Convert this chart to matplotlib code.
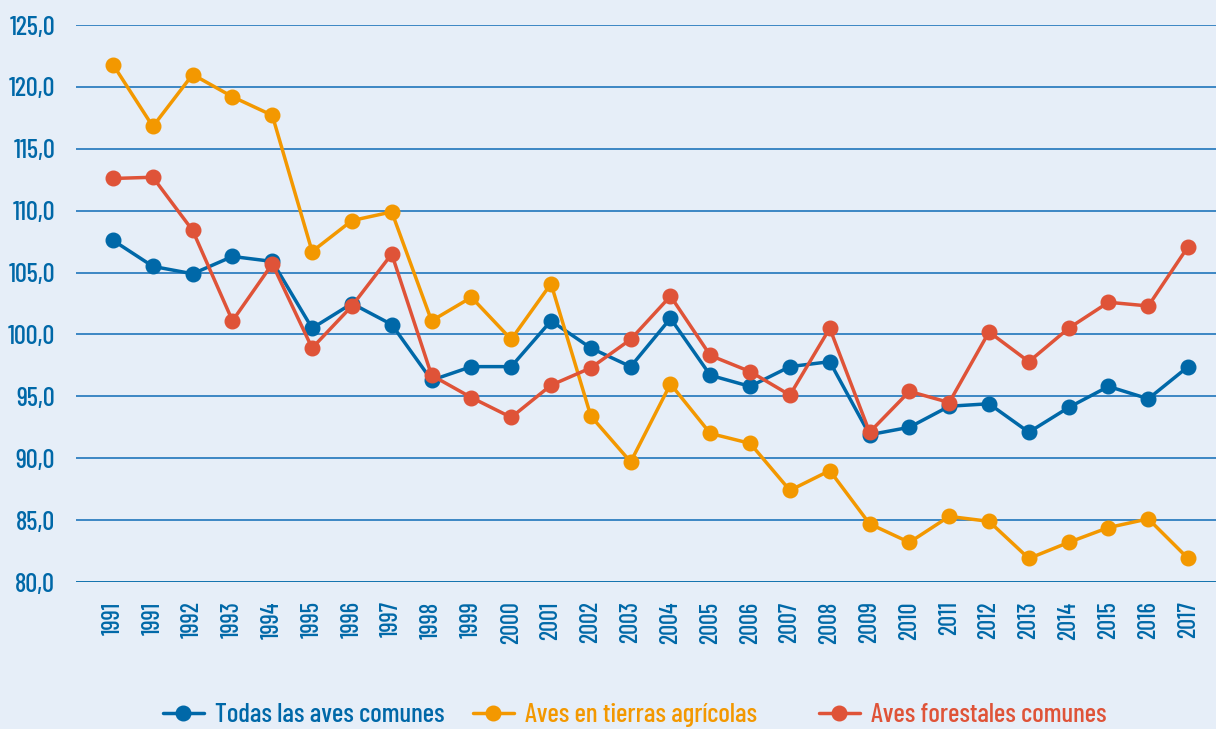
import matplotlib
matplotlib.use("Agg")
import matplotlib.pyplot as plt
from matplotlib import font_manager as fm

years = ["1991", "1991", "1992", "1993", "1994", "1995", "1996", "1997", "1998", "1999",
         "2000", "2001", "2002", "2003", "2004", "2005", "2006", "2007", "2008", "2009",
         "2010", "2011", "2012", "2013", "2014", "2015", "2016", "2017"]
todas = [107.6, 105.5, 104.9, 106.3, 105.9, 100.5, 102.5, 100.8, 96.3, 97.4,
         97.4, 101.1, 98.9, 97.4, 101.3, 96.7, 95.8, 97.4, 97.8, 91.9,
         92.5, 94.2, 94.4, 92.1, 94.1, 95.8, 94.8, 97.4]
agricolas = [121.8, 116.8, 121.0, 119.2, 117.7, 106.7, 109.2, 109.9, 101.1, 103.0,
             99.6, 104.1, 93.4, 89.7, 96.0, 92.0, 91.2, 87.4, 89.0, 84.7,
             83.2, 85.3, 84.9, 81.9, 83.2, 84.4, 85.1, 81.9]
forestales = [112.6, 112.7, 108.4, 101.1, 105.7, 98.9, 102.3, 106.5, 96.7, 94.9,
              93.3, 95.9, 97.3, 99.6, 103.1, 98.3, 97.0, 95.1, 100.5, 92.1,
              95.4, 94.5, 100.2, 97.8, 100.5, 102.6, 102.3, 107.1]
series_names = ["Todas las aves comunes", "Aves en tierras agrícolas", "Aves forestales comunes"]
colors = ["#0068a8", "#f39800", "#df5338"]
yticks = [80, 85, 90, 95, 100, 105, 110, 115, 120, 125]

avail = {f.name for f in fm.fontManager.ttflist}
prefs = ["Barlow Condensed", "Barlow Semi Condensed", "Roboto Condensed", "Fira Sans Condensed",
         "Archivo Narrow", "PT Sans Narrow", "Open Sans Condensed", "Liberation Sans Narrow",
         "DejaVu Sans"]
fam = next(p for p in prefs if p in avail or p == "DejaVu Sans")
scale = 1.0 if fam != "DejaVu Sans" else 0.8
plt.rcParams["font.family"] = [fam, "DejaVu Sans"]
plt.rcParams["font.weight"] = "medium"

bg = "#e6eef8"
W, H = 1216, 729
fig = plt.figure(figsize=(W / 100, H / 100), dpi=100, facecolor=bg)
ax = fig.add_axes([76 / W, 1 - 582 / H, (W - 76) / W, (582 - 25) / H])
ax.set_facecolor(bg)

x = list(range(len(years)))
for vals, name, c in zip([todas, agricolas, forestales], series_names, colors):
    ax.plot(x, vals, color=c, lw=2.5, marker="o", ms=10.5, label=name, zorder=3,
            solid_capstyle="round")

ax.set_ylim(80, 125)
ax.set_xlim(-0.93, 27.7)
ax.set_yticks(yticks)
ax.set_yticklabels([f"{v:.1f}".replace(".", ",") for v in yticks], fontweight="medium")
ax.set_xticks(x)
ax.set_xticklabels(years, rotation=90, va="top", fontweight="medium")
for yv in yticks:
    ax.axhline(yv, color="#2f7fc0" if yv != 80 else "#0068a8", lw=1.3, zorder=1)
for s in ax.spines.values():
    s.set_visible(False)
ax.tick_params(axis="both", length=0, colors="#0068a8")
ax.tick_params(axis="y", pad=15, labelsize=19 * scale)
ax.tick_params(axis="x", pad=14, labelsize=17.5 * scale)

handles = ax.get_lines()
legend_x = [163, 473, 819]
for h, name, c, lx in zip(handles, series_names, colors, legend_x):
    leg = fig.legend([h], [name], loc="center left", bbox_to_anchor=(lx / W, 1 - 715 / H),
                     frameon=False, fontsize=19.5 * scale, handlelength=1.5,
                     handletextpad=0.42, borderpad=0, borderaxespad=0,
                     prop={"weight": "medium", "size": 19.5 * scale})
    leg.get_texts()[0].set_color(c)

fig.savefig("out.png", dpi=100, facecolor=bg)
